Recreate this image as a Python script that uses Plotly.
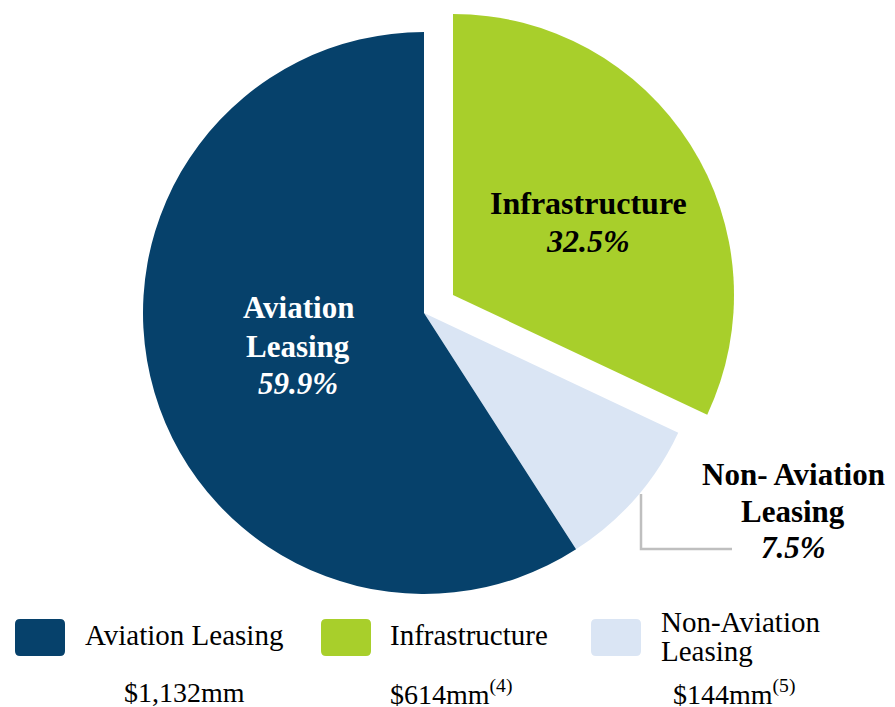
import plotly.graph_objects as go

# ---- data ----
categories = ["Infrastructure", "Non-Aviation Leasing", "Aviation Leasing"]
# slice sizes as drawn in the picture (angles measured off the chart)
shares = [32.0, 8.9, 59.1]
# percentage labels as printed on the chart
pct_labels = ["32.5%", "7.5%", "59.9%"]
colors = ["#A8CF2B", "#DAE5F4", "#06416B"]
exploded = "Infrastructure"

legend_names = ["Aviation Leasing", "Infrastructure", "Non-Aviation", "Leasing"]
legend_colors = ["#06416B", "#A8CF2B", "#DAE5F4"]
legend_amounts = ["$1,132mm", "$614mm<sup>(4)</sup>", "$144mm<sup>(5)</sup>"]

# page body has an 8px margin, so the figure starts at (8, 8)
OFF = 8
W, H = 895 - OFF, 707 - OFF
FONT = "Liberation Serif"
CLEAR = "rgba(0,0,0,0)"

def px(x):
    return (x - OFF) / W

def py(y):
    return 1 - (y - OFF) / H

def dom(cx, cy, r):
    return dict(x=[px(cx - r), px(cx + r)], y=[py(cy + r), py(cy - r)])

fig = go.Figure()
# main pie (exploded slice hidden)
fig.add_trace(go.Pie(
    labels=categories, values=shares, sort=False,
    direction="clockwise", rotation=0,
    marker=dict(colors=[CLEAR if c == exploded else col for c, col in zip(categories, colors)],
                line=dict(width=0)),
    textinfo="none", hoverinfo="label", showlegend=False,
    domain=dom(424, 313, 281),
))
# exploded slice, drawn from the same values, shifted out along its mid-angle
fig.add_trace(go.Pie(
    labels=categories, values=shares, sort=False,
    direction="clockwise", rotation=0,
    marker=dict(colors=[col if c == exploded else CLEAR for c, col in zip(categories, colors)],
                line=dict(width=0)),
    textinfo="none", hoverinfo="skip", showlegend=False,
    domain=dom(453, 295, 281),
))

ann = []
def txt(x, y, t, size, color="black", bold=False, italic=False, xanchor="center"):
    s = t
    if bold:
        s = "<b>" + s + "</b>"
    if italic:
        s = "<i>" + s + "</i>"
    ann.append(dict(x=px(x), y=py(y), xref="paper", yref="paper", text=s,
                    showarrow=False, xanchor=xanchor, yanchor="middle",
                    font=dict(family=FONT, size=size, color=color)))

# slice labels
txt(588, 203, "Infrastructure", 32, bold=True)
txt(588, 241, pct_labels[0], 32, bold=True, italic=True)
txt(298, 307, "Aviation", 31, color="white", bold=True)
txt(298, 346, "Leasing", 31, color="white", bold=True)
txt(298, 383, pct_labels[2], 31, color="white", bold=True, italic=True)
txt(793, 474, "Non- Aviation", 31, bold=True)
txt(793, 511, "Leasing", 31, bold=True)
txt(793, 547, pct_labels[1], 31, bold=True, italic=True)

shapes = []
# connector line for Non-Aviation label
shapes.append(dict(type="path", xref="paper", yref="paper",
                   path=f"M {px(641)} {py(494)} L {px(641)} {py(549)} L {px(732)} {py(549)}",
                   line=dict(color="#BFBFBF", width=2.5)))

# custom legend
box_x = [15, 321, 591]
text_x = [83, 388, 659]
text_y = [[635], [635], [622, 651]]
amount_x = [123, 389, 672]
name_i = 0
for i in range(3):
    x0, x1, y0, y1 = box_x[i], box_x[i] + 50, 619, 656
    r = 5
    path = (f"M {px(x0 + r)} {py(y0)} L {px(x1 - r)} {py(y0)} "
            f"Q {px(x1)} {py(y0)} {px(x1)} {py(y0 + r)} L {px(x1)} {py(y1 - r)} "
            f"Q {px(x1)} {py(y1)} {px(x1 - r)} {py(y1)} L {px(x0 + r)} {py(y1)} "
            f"Q {px(x0)} {py(y1)} {px(x0)} {py(y1 - r)} L {px(x0)} {py(y0 + r)} "
            f"Q {px(x0)} {py(y0)} {px(x0 + r)} {py(y0)} Z")
    shapes.append(dict(type="path", xref="paper", yref="paper", path=path,
                       fillcolor=legend_colors[i], line=dict(width=0)))
    for yy in text_y[i]:
        ann.append(dict(x=px(text_x[i]), y=py(yy), xref="paper", yref="paper",
                        text=legend_names[name_i], showarrow=False, xanchor="left",
                        yanchor="middle", align="left",
                        font=dict(family=FONT, size=29, color="black")))
        name_i += 1
    ann.append(dict(x=px(amount_x[i]), y=py(692), xref="paper", yref="paper",
                    text=legend_amounts[i], showarrow=False, xanchor="left",
                    yanchor="middle", align="left", borderpad=0,
                    font=dict(family=FONT, size=28, color="black")))

fig.update_layout(
    width=W, height=H,
    margin=dict(l=0, r=0, t=0, b=0),
    paper_bgcolor="white", plot_bgcolor="white",
    annotations=ann, shapes=shapes,
    showlegend=False,
)

fig.write_html("out.html")
